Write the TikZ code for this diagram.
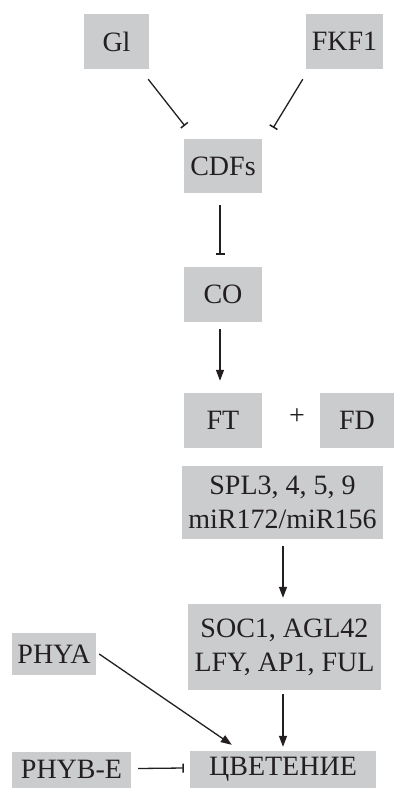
\documentclass[tikz,border=0pt]{standalone}
\usepackage{fontspec}
\setmainfont{Liberation Serif}
\usetikzlibrary{arrows.meta,calc}
\definecolor{boxgray}{HTML}{CBCCCE}
\definecolor{ink}{HTML}{231F20}
\tikzset{
  gbox/.style={fill=boxgray, text=ink, inner sep=0pt, align=center,
    font=\fontsize{28}{34}\selectfont},
  act/.style={draw=ink, line width=1.3pt, -{Triangle[length=11pt,width=8pt]}},
  inh/.style={draw=ink, line width=1.3pt, -{Bar[width=9pt,line width=1.5pt]}},
}
\begin{document}
\begin{tikzpicture}[x=1pt,y=-1pt]
  \useasboundingbox (0,0) rectangle (394,788);
  % boxes
  \node[gbox, minimum width=65pt, minimum height=55pt] (gi) at (116.5,41.5) {Gl};
  \node[gbox, minimum width=77pt, minimum height=55pt] (fkf) at (344.5,41.5) {FKF1};
  \node[gbox, minimum width=78pt, minimum height=54pt] (cdf) at (223,166) {CDFs};
  \node[gbox, minimum width=78pt, minimum height=55pt] (co) at (223,294.5) {CO};
  \node[gbox, minimum width=78pt, minimum height=55pt] (ft) at (223,420.5) {FT};
  \node[gbox, minimum width=74pt, minimum height=55pt] (fd) at (357,420.5) {FD};
  \node[text=ink, font=\fontsize{28}{34}\selectfont] (plus) at (297,417) {+};
  \node[gbox, minimum width=201pt, minimum height=73pt] (spl) at (282.5,502.5)
    {SPL3, 4, 5, 9\\miR172/miR156};
  \node[gbox, minimum width=193pt, minimum height=86pt] (soc) at (284.5,647)
    {SOC1, AGL42\\LFY, AP1, FUL};
  \node[gbox, minimum width=186pt, minimum height=37pt] (flw) at (283,769.5) {ЦВЕТЕНИЕ};
  \node[gbox, minimum width=84pt, minimum height=42pt] (phya) at (54,654) {PHYA};
  \node[gbox, minimum width=119pt, minimum height=36pt] (phyb) at (71.5,769.5) {PHYB-E};
  % connectors
  \draw[inh] ($(gi.south east)+(-1,10)$) -- ($(cdf.north west)+(1,-13)$);
  \draw[inh] ($(fkf.south west)+(-3,10)$) -- ($(cdf.north east)+(11,-11)$);
  \draw[inh] ($(cdf.south)+(-3,12)$) -- ($(co.north)+(-3,-12)$);
  \draw[act] ($(co.south)+(-3,7)$) -- ($(ft.north)+(-3,-12)$);
  \draw[act] ($(spl.south)+(0.5,7)$) -- ($(soc.north)+(-1.5,-6)$);
  \draw[act] ($(soc.south)+(-1.5,4)$) -- ($(flw.north)+(0,-4)$);
  \draw[act] ($(phya.east)+(3,0)$) -- ($(flw.north west)+(42,-6)$);
  \draw[inh] ($(phyb.east)+(7,-1)$) -- ($(flw.west)+(-6,-1.5)$);
\end{tikzpicture}
\end{document}
